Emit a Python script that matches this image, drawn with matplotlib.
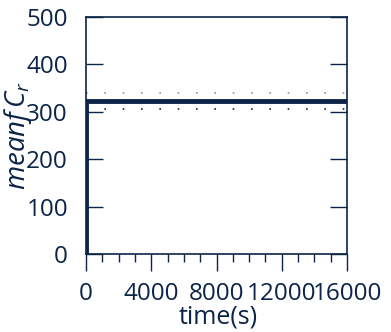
import numpy as np
import matplotlib
matplotlib.use("Agg")
import matplotlib.pyplot as plt
from matplotlib.ticker import MultipleLocator

navy = '#0b2447'

plt.rcParams['font.family'] = ['Open Sans', 'DejaVu Sans']
plt.rcParams['mathtext.fontset'] = 'custom'
plt.rcParams['mathtext.it'] = 'Open Sans:italic'
plt.rcParams['mathtext.rm'] = 'Open Sans'

# data
time = [0, 0, 16000]
mean_cr = [0, 322, 322]
upper = [339, 339]
lower = [305, 305]
band_t = [0, 16000]

fig = plt.figure(figsize=(3.91, 3.32), dpi=100)
ax = fig.add_axes([86/391, 1-254/332, 261/391, 237/332])

ax.plot(time, mean_cr, color=navy, lw=3.5, solid_joinstyle='miter')
ax.plot(band_t, upper, color='#8a94a6', lw=1.2, ls=(0, (1, 10)))
ax.plot(band_t, lower, color=navy, lw=1.2, ls=(0, (1, 10)))

ax.set_xlim(0, 16000)
ax.set_ylim(0, 500)
ax.xaxis.set_major_locator(MultipleLocator(4000))
ax.xaxis.set_minor_locator(MultipleLocator(1000))
ax.yaxis.set_major_locator(MultipleLocator(100))

ax.tick_params(axis='x', which='major', direction='out', length=12, width=1,
               color=navy, labelcolor=navy, labelsize=17.5, pad=8)
ax.tick_params(axis='x', which='minor', direction='out', length=6, width=1, color=navy)
ax.tick_params(axis='y', which='major', direction='in', length=12, width=1,
               color=navy, labelcolor=navy, labelsize=17.5, pad=13, right=True)

for s in ax.spines.values():
    s.set_color(navy)
    s.set_linewidth(1.2)

ax.set_xlabel('time(s)', color=navy, fontsize=18)
ax.set_ylabel(r'$meanf\,C_r$', color=navy, fontsize=20)
ax.xaxis.set_label_coords(0.506, -0.215)
ax.yaxis.set_label_coords(-0.2, 0.5)

fig.savefig('out.png', dpi=100)
